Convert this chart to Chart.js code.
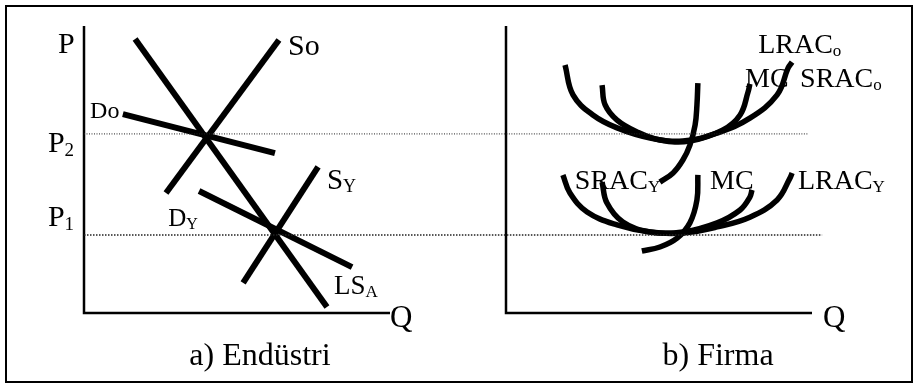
<!DOCTYPE html>
<html>
<head>
<meta charset="utf-8">
<script src="https://cdn.jsdelivr.net/npm/chart.js@4/dist/chart.umd.min.js"></script>
<style>
  body { margin: 0; background: #fff; }
  #wrap { position: relative; width: 918px; height: 388px; }
  canvas { position: absolute; top: 0; }
  #frame { position: absolute; left: 5px; top: 5px; width: 904px; height: 374px; border: 2px solid #000; pointer-events: none; }
</style>
</head>
<body>
<div id="wrap">
  <canvas id="industry" width="459" height="388" style="left:0"></canvas>
  <canvas id="firm" width="459" height="388" style="left:459px"></canvas>
  <div id="frame"></div>
</div>
<script>
// price levels (both panels share them)
var P2 = 62.4;
var P1 = 27.2;

// a) Endüstri - straight lines, [Q, P]
var lsA = [[16.7, 95.5], [79.4, 2.1]];
var so = [[26.8, 41.8], [63.7, 95.1]];
var dO = [[12.7, 69.3], [62.4, 55.7]];
var sY = [[52.0, 10.5], [76.5, 50.9]];
var dY = [[37.6, 42.5], [87.6, 16.0]];

// b) Firma - cost curves, [Q, P]
var lracO = [[19.3, 86.4], [21.9, 76.0], [28.4, 69.0], [36.3, 64.5], [47.1, 61.0], [57.8, 59.9], [69.0, 62.7], [79.7, 67.9], [88.6, 76.0], [92.2, 85.4], [93.5, 87.4]];
var sracO = [[31.4, 79.4], [32.4, 72.5], [36.3, 67.2], [42.8, 63.1], [50.3, 60.3], [60.1, 59.9], [70.9, 63.8], [76.5, 69.0], [79.1, 77.0], [79.7, 79.8]];
var mcO = [[50.3, 45.6], [54.6, 48.8], [57.8, 53.3], [60.1, 58.5], [61.8, 65.5], [62.4, 72.5], [62.7, 80.1]];
var lracY = [[18.6, 48.1], [20.9, 41.8], [26.5, 35.2], [36.3, 30.7], [47.1, 28.2], [57.8, 27.9], [69.0, 30.0], [79.7, 33.4], [88.6, 39.4], [92.8, 47.0], [93.5, 48.8]];
var sracY = [[31.4, 45.6], [33.0, 38.3], [38.2, 31.7], [47.1, 28.2], [57.8, 28.2], [69.0, 31.4], [76.5, 35.9], [79.7, 40.4], [80.4, 42.9]];
var mcY = [[44.4, 21.6], [50.3, 23.0], [55.9, 26.1], [60.1, 31.4], [62.4, 39.4], [62.7, 48.1]];

// dotted price lines: where they start / stop in each panel (Q units)
var dotLeftEnd = 122.5;
var dotRightStart = -15.4;
var dotRightEndP2 = 98.7;
var dotRightEndP1 = 103.3;

// labels: [text, subscript, Q, P, size, align]
var industryLabels = [
    ['P', '', -8.5, 90.6, 30, 'left'],
    ['P', '2', -11.8, 56.1, 30, 'left'],
    ['P', '1', -11.8, 30.3, 30, 'left'],
    ['Do', '', 2.0, 67.9, 24, 'left'],
    ['So', '', 66.7, 89.9, 30, 'left'],
    ['S', 'Y', 79.4, 43.2, 29, 'left'],
    ['D', 'Y', 27.5, 30.3, 25, 'left'],
    ['LS', 'A', 81.7, 6.6, 27, 'left'],
    ['Q', '', 100.0, -4.9, 31, 'left'],
    ['a) Endüstri', '', 57.5, -18.1, 32, 'center']
];
var firmLabels = [
    ['LRAC', 'o', 82.4, 90.6, 28, 'left'],
    ['MC', '', 78.1, 78.7, 28, 'left'],
    ['SRAC', 'o', 96.1, 78.7, 28, 'left'],
    ['SRAC', 'Y', 22.5, 43.2, 28, 'left'],
    ['MC', '', 66.7, 43.2, 28, 'left'],
    ['LRAC', 'Y', 95.4, 43.2, 28, 'left'],
    ['Q', '', 103.6, -4.9, 31, 'left'],
    ['b) Firma', '', 69.3, -18.1, 32, 'center']
];

var FONT = '"Liberation Serif", "Times New Roman", serif';

function pts(arr) {
    return arr.map(function (p) { return { x: p[0], y: p[1] }; });
}

function curve(arr, w, smooth) {
    return {
        data: pts(arr),
        borderColor: '#000',
        borderWidth: w,
        pointRadius: 0,
        showLine: true,
        fill: false,
        clip: false,
        borderCapStyle: 'butt',
        tension: smooth ? 0.4 : 0
    };
}

function dotted(from, to, level, w, dash) {
    var d = curve([[from, level], [to, level]], w, false);
    d.borderColor = '#222';
    d.borderDash = dash;
    return d;
}

function axes() {
    var d = curve([[0, 100], [0, 0], [100, 0]], 2.5, false);
    d.borderJoinStyle = 'miter';
    return d;
}

var labelPlugin = {
    id: 'labels',
    afterDatasetsDraw: function (chart, args, opts) {
        var ctx = chart.ctx;
        var xs = chart.scales.x, ys = chart.scales.y;
        ctx.save();
        ctx.fillStyle = '#000';
        ctx.textBaseline = 'alphabetic';
        opts.items.forEach(function (l) {
            var px = xs.getPixelForValue(l[2]);
            var py = ys.getPixelForValue(l[3]);
            ctx.font = l[4] + 'px ' + FONT;
            var w = ctx.measureText(l[0]).width;
            var subSize = Math.round(l[4] * 0.62);
            ctx.font = subSize + 'px ' + FONT;
            var sw = l[1] ? ctx.measureText(l[1]).width : 0;
            var x0 = l[5] === 'center' ? px - (w + sw) / 2 : px;
            ctx.textAlign = 'left';
            ctx.font = l[4] + 'px ' + FONT;
            ctx.fillText(l[0], x0, py);
            if (l[1]) {
                ctx.font = subSize + 'px ' + FONT;
                ctx.fillText(l[1], x0 + w, py + l[4] * 0.12);
            }
        });
        ctx.restore();
    }
};

function baseOptions(pad, items) {
    return {
        responsive: false,
        animation: false,
        layout: { padding: pad },
        plugins: {
            legend: { display: false },
            tooltip: { enabled: false },
            labels: { items: items }
        },
        scales: {
            x: { type: 'linear', display: false, min: 0, max: 100 },
            y: { type: 'linear', display: false, min: 0, max: 100 }
        }
    };
}

new Chart(document.getElementById('industry'), {
    type: 'scatter',
    data: {
        datasets: [
            dotted(0, dotLeftEnd, P2, 1, [1, 1.5]),
            dotted(0, dotLeftEnd, P1, 1.5, [1.5, 1.5]),
            axes(),
            curve(lsA, 6, false),
            curve(so, 6, false),
            curve(dO, 6, false),
            curve(sY, 6, false),
            curve(dY, 6, false)
        ]
    },
    options: baseOptions({ left: 84, right: 69, top: 26, bottom: 75 }, industryLabels),
    plugins: [labelPlugin]
});

new Chart(document.getElementById('firm'), {
    type: 'scatter',
    data: {
        datasets: [
            dotted(dotRightStart, dotRightEndP2, P2, 1, [1, 1.5]),
            dotted(dotRightStart, dotRightEndP1, P1, 1.5, [1.5, 1.5]),
            axes(),
            curve(lracO, 5.5, true),
            curve(sracO, 5.5, true),
            curve(mcO, 5.5, true),
            curve(lracY, 5.5, true),
            curve(sracY, 5.5, true),
            curve(mcY, 5.5, true)
        ]
    },
    options: baseOptions({ left: 47, right: 106, top: 26, bottom: 75 }, firmLabels),
    plugins: [labelPlugin]
});
</script>
</body>
</html>
